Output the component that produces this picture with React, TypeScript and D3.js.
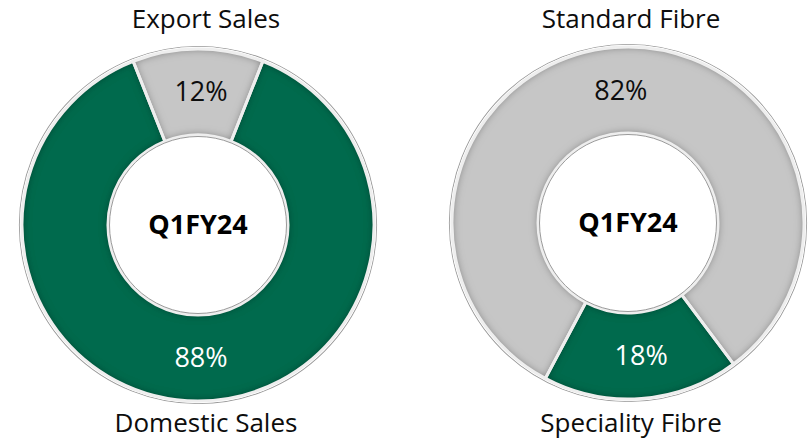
import React from "react";
import * as d3 from "d3";

const W = 810;
const H = 442;

// left donut: sales mix
const salesCats = ["Export Sales", "Domestic Sales"];
const salesVals = [12, 88];
// right donut: fibre mix
const fibreCats = ["Standard Fibre", "Speciality Fibre"];
const fibreVals = [82, 18];
const centreLabel = "Q1FY24";

const GREEN = "#036a4e";
const GREY = "#c6c6c6";
const FONT = "'Open Sans', 'Noto Sans', sans-serif";

type DonutProps = {
  id: string;
  cats: string[];
  vals: number[];
  cx: number;
  cy: number;
  startDeg: number;
  topLabel: string;
  bottomLabel: string;
  labelDx: number;
};

const outerR = 176;
const innerR = 90;

const Donut = (props: DonutProps) => {
  const start = (props.startDeg * Math.PI) / 180;
  const pie = d3
    .pie<number>()
    .sort(null)
    .value(d => d)
    .startAngle(start)
    .endAngle(start + Math.PI * 2);
  const arcs = pie(props.vals);
  const arc = d3.arc<d3.PieArcDatum<number>>().innerRadius(innerR).outerRadius(outerR);
  const labelArc = d3
    .arc<d3.PieArcDatum<number>>()
    .innerRadius((innerR + outerR) / 2)
    .outerRadius((innerR + outerR) / 2);
  const colour = d3.scaleOrdinal<string, string>().domain(props.cats).range([GREY, GREEN]);
  const textColour = d3.scaleOrdinal<string, string>().domain(props.cats).range(["#0d0d0d", "#ffffff"]);

  return (
    <g transform={`translate(${props.cx},${props.cy})`}>
      {/* outer rim: white highlight then thin grey line */}
      <circle r={outerR + 2.5} fill="none" stroke="#9a9a9a" strokeWidth={1.2} />
      <circle r={outerR + 1} fill="none" stroke="#ffffff" strokeWidth={2.5} />
      {arcs.map((a, i) => (
        <path
          key={i}
          d={arc(a) || ""}
          fill={colour(props.cats[i])}
          filter={`url(#bevel-${props.id})`}
        />
      ))}
      {arcs.map((a, i) => (
        <path key={"s" + i} d={arc(a) || ""} fill="none" stroke="#eeeeee" strokeWidth={3} />
      ))}
      <circle r={innerR - 1.5} fill="#ffffff" stroke="#9a9a9a" strokeWidth={1} />
      {arcs.map((a, i) => {
        const [x, y] = labelArc.centroid(a);
        return (
          <text
            key={"t" + i}
            x={x + 3}
            y={y}
            dy="0.35em"
            textAnchor="middle"
            fontFamily={FONT}
            fontSize={27}
            fill={textColour(props.cats[i])}
          >
            {`${props.vals[i]}%`}
          </text>
        );
      })}
      <text
        x={0}
        y={0}
        dy="0.35em"
        textAnchor="middle"
        fontFamily={FONT}
        fontWeight="bold"
        fontSize={27}
        fill="#000"
      >
        {centreLabel}
      </text>
      <text
        x={props.labelDx}
        y={-props.cy + 28}
        textAnchor="middle"
        fontFamily={FONT}
        fontSize={26}
        fill="#0d0d0d"
      >
        {props.topLabel}
      </text>
      <text
        x={props.labelDx}
        y={-props.cy + 432}
        textAnchor="middle"
        fontFamily={FONT}
        fontSize={26}
        fill="#0d0d0d"
      >
        {props.bottomLabel}
      </text>
    </g>
  );
};

// inner-shadow bevel along each slice's edges
const Bevel = ({ id }: { id: string }) => (
  <filter id={`bevel-${id}`} x="-10%" y="-10%" width="120%" height="120%">
    <feGaussianBlur in="SourceAlpha" stdDeviation="4" result="blur" />
    <feComposite in="SourceAlpha" in2="blur" operator="arithmetic" k2={1} k3={-1} result="edge" />
    <feFlood floodColor="#000" floodOpacity={0.8} />
    <feComposite in2="edge" operator="in" result="shadow" />
    <feMerge>
      <feMergeNode in="SourceGraphic" />
      <feMergeNode in="shadow" />
    </feMerge>
  </filter>
);

const App = () => {
  return (
    <svg
      width={W}
      height={H}
      style={{ position: "absolute", left: 0, top: 0, background: "#fff" }}
    >
      <defs>
        <Bevel id="sales" />
        <Bevel id="fibre" />
      </defs>
      <Donut
        id="sales"
        cats={salesCats}
        vals={salesVals}
        cx={198}
        cy={225}
        startDeg={-21.6}
        topLabel={salesCats[0]}
        bottomLabel={salesCats[1]}
        labelDx={8}
      />
      <Donut
        id="fibre"
        cats={fibreCats}
        vals={fibreVals}
        cx={628}
        cy={223}
        startDeg={208}
        topLabel={fibreCats[0]}
        bottomLabel={fibreCats[1]}
        labelDx={3}
      />
    </svg>
  );
};

export default App;
